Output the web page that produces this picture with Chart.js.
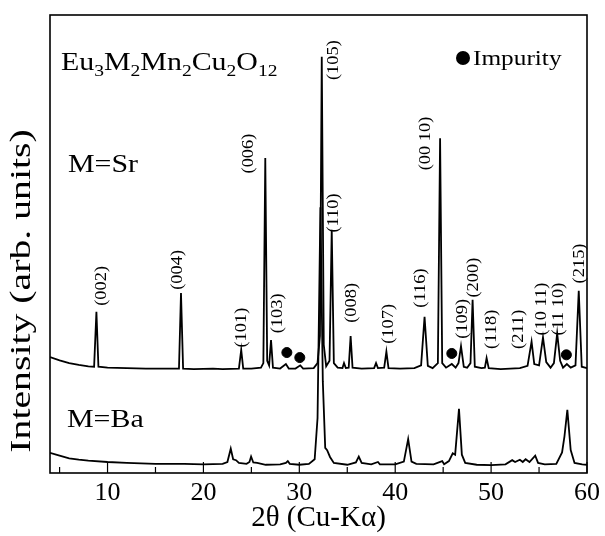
<!DOCTYPE html>
<html>
<head>
<meta charset="utf-8">
<script src="https://cdn.jsdelivr.net/npm/chart.js@4.4.1/dist/chart.umd.min.js"></script>
<style>
  body { margin: 0; background: #fff; }
  #xrd { display: block; }
</style>
</head>
<body>
<canvas id="xrd" width="605" height="536"></canvas>
<script>
// XRD scans (2theta in degrees, intensity in arb. units, Sr trace offset upward)
var srAngle = [4.0, 5, 6, 7, 8, 8.6, 8.84, 9.05, 10, 12, 14, 16, 17.45, 17.66, 17.88, 19, 21, 22, 23.7, 23.94, 24.15,
  25, 26.0, 26.25, 26.45, 26.65, 26.85, 27.05, 27.25, 28.0, 28.6, 28.9, 29.6, 30.1, 30.4, 31.5, 31.9, 32.15, 32.34,
  32.55, 32.8, 33.15, 33.38, 33.6, 34.0, 34.5, 34.66, 34.85, 35.15, 35.35, 35.55, 36.5, 37.8, 38.0, 38.2, 38.85,
  39.08, 39.3, 40.5, 42.0, 42.7, 43.06, 43.4, 43.9, 44.45, 44.68, 44.9, 45.3, 45.9, 46.3, 46.6, 46.86, 47.15, 47.5,
  47.85, 48.07, 48.3, 49.0, 49.35, 49.53, 49.75, 51, 52, 53, 53.8, 54.22, 54.5, 55.0, 55.41, 55.75, 56.2, 56.55,
  56.89, 57.2, 57.5, 57.9, 58.3, 58.8, 59.14, 59.45, 60];
var srIntensity = [25.3, 24.6, 24.0, 23.6, 23.3, 23.2, 35.2, 23.2, 23.0, 22.9, 22.8, 22.8, 22.8, 39.3, 22.8, 22.7, 22.8,
  22.7, 22.8, 26.9, 22.8, 22.8, 23.0, 24.0, 68.8, 24.5, 23.5, 29.0, 23.0, 22.8, 23.8, 22.8, 22.8, 23.5, 22.8, 22.9,
  24.0, 30.0, 90.9, 28.0, 23.3, 24.5, 53.1, 24.0, 23.0, 22.9, 24.0, 22.9, 23.0, 29.9, 23.0, 22.8, 22.9, 24.0, 22.9,
  23.0, 26.5, 22.9, 22.8, 22.9, 23.5, 34.1, 23.4, 22.9, 24.0, 73.1, 24.0, 23.0, 23.8, 23.0, 24.0, 27.7, 23.2, 23.0,
  24.0, 37.8, 23.2, 22.9, 23.0, 25.1, 22.9, 22.7, 22.8, 22.9, 23.4, 28.7, 23.8, 23.5, 29.6, 24.2, 23.0, 24.0, 30.5,
  24.5, 23.0, 23.8, 23.0, 23.5, 39.8, 23.2, 22.9];

var baAngle = [4.0, 5, 6, 7, 8, 10, 12, 15, 18, 20, 22, 22.5, 22.85, 23.1, 23.4, 23.7, 24.5, 24.8, 24.97, 25.2, 25.6,
  26.5, 28, 28.6, 28.8, 29.0, 30, 31.0, 31.6, 31.9, 32.2, 32.45, 32.7, 32.9, 33.2, 33.6, 35, 35.9, 36.2, 36.5, 37.5,
  38.2, 38.4, 40, 40.9, 41.35, 41.7, 42.2, 44, 44.9, 45.1, 45.6, 46.0, 46.25, 46.65, 46.95, 47.3, 48.5, 50, 51.5,
  52.2, 52.5, 53.0, 53.3, 53.6, 54.0, 54.6, 54.9, 55.6, 56.8, 57.4, 57.65, 57.95, 58.3, 58.7, 59.5, 60];
var baIntensity = [4.4, 3.8, 3.2, 2.9, 2.7, 2.4, 2.2, 2.0, 2.0, 1.9, 2.0, 2.4, 5.3, 3.0, 2.8, 2.2, 2.0, 2.4, 3.6, 2.3,
  2.2, 1.8, 1.9, 2.2, 2.6, 2.0, 1.8, 2.0, 3.0, 12, 58, 20, 5.5, 5.0, 3.5, 2.2, 1.8, 2.3, 3.6, 2.2, 1.9, 2.4, 1.9,
  1.9, 2.5, 7.4, 2.5, 2.0, 1.9, 2.6, 1.9, 2.6, 4.3, 4.0, 14.0, 4.0, 2.2, 1.8, 1.7, 1.9, 2.8, 2.4, 2.9, 2.4, 3.0,
  2.4, 3.8, 2.2, 1.9, 2.0, 4.5, 8, 13.8, 5, 2.2, 1.9, 1.8];

// impurity reflections marked with a dot
var impurityAngle = [28.7, 30.05, 45.9, 57.85];
var impurityHeight = [26.3, 25.2, 26.1, 25.8];

// Miller indices written above the Sr peaks (label bottom end)
var peakLabels = ['(002)', '(004)', '(101)', '(006)', '(103)', '(105)', '(110)', '(008)', '(107)', '(116)',
  '(00 10)', '(109)', '(200)', '(118)', '(211)', '(10 11)', '(11 10)', '(215)'];
var labelAngle = [9.36, 17.30, 24.05, 24.74, 27.78, 33.55, 33.55, 35.45, 39.33, 42.65,
  43.23, 47.04, 48.18, 50.08, 52.84, 55.33, 57.06, 59.30];
var labelHeight = [36.5, 40.0, 27.4, 65.4, 30.5, 85.8, 52.5, 32.8, 28.2, 36.1,
  66.1, 29.3, 38.3, 27.1, 27.1, 30.0, 30.0, 41.4];

var xTicks = [10, 20, 30, 40, 50, 60];
var xMinorTicks = [5, 15, 25, 35, 45, 55];

var serif = "'Liberation Serif', 'Times New Roman', serif";

function toPoints(xs, ys) {
  return xs.map(function (x, i) { return { x: x, y: ys[i] }; });
}

// text widened along its reading direction, like the scanned figure
function stretchedText(ctx, text, x, y, size, rotate, sx) {
  sx = sx || 1.15;
  ctx.save();
  ctx.translate(x, y);
  if (rotate) ctx.rotate(-Math.PI / 2);
  ctx.scale(sx, 1);
  ctx.font = size + 'px ' + serif;
  ctx.fillText(text, 0, 0);
  var w = ctx.measureText(text).width * sx;
  ctx.restore();
  return w;
}

var decor = {
  id: 'decor',
  afterDraw: function (chart) {
    var ctx = chart.ctx;
    var area = chart.chartArea;
    var xs = chart.scales.x;
    var ys = chart.scales.y;

    ctx.save();
    ctx.strokeStyle = '#000';
    ctx.fillStyle = '#000';

    // frame
    ctx.lineWidth = 1.6;
    ctx.strokeRect(area.left, area.top, area.right - area.left, area.bottom - area.top);

    // inward ticks on the bottom axis
    ctx.lineWidth = 1.2;
    xTicks.forEach(function (v) {
      var px = xs.getPixelForValue(v);
      ctx.beginPath();
      ctx.moveTo(px, area.bottom);
      ctx.lineTo(px, area.bottom - 11);
      ctx.stroke();
    });
    xMinorTicks.forEach(function (v) {
      var px = xs.getPixelForValue(v);
      ctx.beginPath();
      ctx.moveTo(px, area.bottom);
      ctx.lineTo(px, area.bottom - 6);
      ctx.stroke();
    });

    // hkl labels, reading bottom to top
    ctx.textBaseline = 'middle';
    ctx.textAlign = 'left';
    peakLabels.forEach(function (t, i) {
      stretchedText(ctx, t, xs.getPixelForValue(labelAngle[i]), ys.getPixelForValue(labelHeight[i]), 16, true);
    });

    // y axis title
    ctx.textAlign = 'center';
    stretchedText(ctx, 'Intensity (arb. units)', 22, (area.top + area.bottom) / 2 + 47, 29, true, 1.37);
    ctx.textAlign = 'left';

    // compound formula with subscripts
    ctx.textBaseline = 'alphabetic';
    var parts = [['Eu', 0], ['3', 1], ['M', 0], ['2', 1], ['Mn', 0], ['2', 1], ['Cu', 0], ['2', 1], ['O', 0], ['12', 1]];
    var cx = area.left + 11;
    parts.forEach(function (p) {
      cx += stretchedText(ctx, p[0], cx, p[1] ? 76 : 70, p[1] ? 17 : 26, false);
    });

    stretchedText(ctx, 'M=Sr', area.left + 18, 172, 26, false);
    stretchedText(ctx, 'M=Ba', area.left + 17, 427, 26, false);

    // impurity key
    ctx.beginPath();
    ctx.arc(463, 58, 7, 0, Math.PI * 2);
    ctx.fill();
    stretchedText(ctx, 'Impurity', 473, 65, 22, false);

    ctx.restore();
  }
};

var chart = new Chart(document.getElementById('xrd'), {
  type: 'line',
  data: {
    datasets: [
      {
        label: 'M=Sr',
        data: toPoints(srAngle, srIntensity),
        borderColor: '#000',
        borderWidth: 1.8,
        pointRadius: 0,
        tension: 0
      },
      {
        label: 'M=Ba',
        data: toPoints(baAngle, baIntensity),
        borderColor: '#000',
        borderWidth: 1.8,
        pointRadius: 0,
        tension: 0
      },
      {
        label: 'Impurity',
        data: toPoints(impurityAngle, impurityHeight),
        showLine: false,
        pointRadius: 5,
        pointBackgroundColor: '#000',
        pointBorderColor: '#000'
      }
    ]
  },
  options: {
    responsive: false,
    animation: false,
    layout: { padding: { top: 15, right: 15, left: 0, bottom: 0 } },
    plugins: {
      legend: { display: false },
      tooltip: { enabled: false }
    },
    scales: {
      x: {
        type: 'linear',
        min: 4,
        max: 60,
        grid: { display: false, drawTicks: false },
        border: { display: false },
        afterBuildTicks: function (scale) {
          scale.ticks = xTicks.map(function (v) { return { value: v }; });
        },
        afterFit: function (scale) { scale.height = 63; },
        ticks: {
          color: '#000',
          padding: 5,
          maxRotation: 0,
          autoSkip: false,
          font: { family: serif, size: 26 }
        },
        title: {
          display: true,
          text: '2θ (Cu-Kα)',
          color: '#000',
          padding: { top: 0, bottom: 0 },
          font: { family: serif, size: 29 }
        }
      },
      y: {
        min: 0,
        max: 100,
        grid: { display: false, drawTicks: false },
        border: { display: false },
        ticks: { display: false },
        afterFit: function (scale) { scale.width = 50; }
      }
    }
  },
  plugins: [decor]
});
</script>
</body>
</html>
